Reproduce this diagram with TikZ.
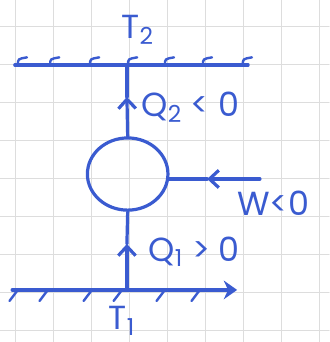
\documentclass[tikz,border=0pt]{standalone}
\usepackage{fontspec}
\setmainfont{Poppins}
\usetikzlibrary{arrows.meta,shapes.geometric}
\definecolor{inkblue}{HTML}{3A5BD0}
\definecolor{gridgray}{HTML}{DDDDDD}

\tikzset{
  engine/.style={draw, ellipse, minimum width=2.12cm, minimum height=1.9cm, inner sep=0pt},
  lbl/.style={inner sep=0pt, anchor=west, text=inkblue},
  hatch/.style={line width=1.8pt}
}

\begin{document}
\begin{tikzpicture}[>={Straight Barb[length=7pt, width=13pt]}, line width=2.4pt,
    line cap=round, inkblue, font=\fontsize{25}{27}\selectfont]
  \useasboundingbox (0,0) rectangle (8.66,9.0);
  % squared paper
  \draw[gridgray, line width=0.8pt, step=1, shift={(0.4,0.3)}] (-0.4,-0.3) grid (8.26,8.7);

  % reservoirs
  \coordinate (hotL) at (0.39,7.29);
  \coordinate (hotR) at (6.53,7.29);
  \coordinate (coldL) at (0.32,1.37);
  \coordinate (coldR) at (6.24,1.37);
  \draw (hotL) -- (hotR);
  \foreach \x in {0.47,1.32,2.37,3.37,4.34,5.34,6.39}
    \draw[hatch] (\x,7.29) .. controls (\x,7.45) .. (\x+0.24,7.49);
  \draw[-{Stealth[length=10pt, width=14pt]}] (coldL) -- (coldR);
  \foreach \x in {0.47,1.26,2.42,3.21,4.34,5.26}
    \draw[hatch] (\x-0.22,1.08) -- (\x,1.37);

  % engine
  \node[engine] (eng) at (3.36,4.42) {};
  \coordinate (hot) at (3.34,7.29);
  \coordinate (cold) at (3.34,1.37);
  \coordinate (q2tip) at (3.34,6.45);
  \coordinate (q1tip) at (3.34,2.58);
  \draw[->] (eng.north) -- (q2tip);
  \draw (q2tip) -- (hot);
  \draw[->] (cold) -- (q1tip);
  \draw (q1tip) -- (eng.south);
  \coordinate (wend) at (6.84,4.29);
  \coordinate (wtip) at (5.45,4.29);
  \draw[->] (wend) -- (wtip);
  \draw (wtip) -- (wend -| eng.east);

  % labels
  \node[lbl, anchor=north west] (t2) at (3.16,8.64) {T\textsubscript{2}};
  \node[lbl, anchor=north west] (t1) at (2.82,0.98) {T\textsubscript{1}};
  \node[lbl] (q2) at (3.68,6.18) {Q\textsubscript{2} < 0};
  \node[lbl] (q1) at (3.87,2.37) {Q\textsubscript{1} > 0};
  \node[lbl] (w) at (6.2,3.66) {W<0};
\end{tikzpicture}
\end{document}
